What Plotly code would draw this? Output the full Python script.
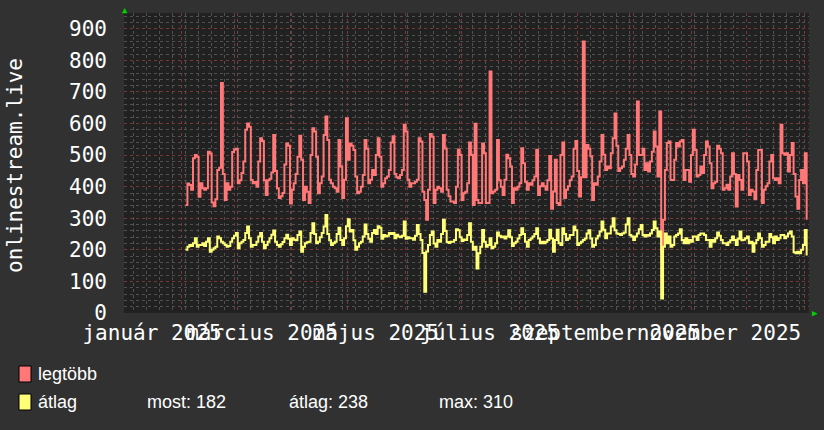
import pandas as pd
import plotly.graph_objects as go

# ---- data (daily values) ----------------------------------------------------
START = "2025-02-03"

legtobb = [
    342, 410, 405, 390, 490, 500, 495,
    368, 411, 395, 390, 395, 511, 505,
    350, 338, 360, 453, 460, 728, 440,
    358, 411, 390, 400, 510, 518, 520,
    411, 420, 443, 480, 580, 600, 590,
    421, 411, 415, 400, 480, 553, 545,
    420, 374, 420, 425, 445, 564, 450,
    395, 364, 370, 380, 470, 537, 530,
    347, 390, 411, 440, 495, 561, 485,
    358, 400, 384, 348, 500, 585, 575,
    495, 379, 411, 432, 564, 622, 548,
    422, 411, 400, 395, 384, 548, 464,
    364, 422, 617, 485, 537, 530, 516,
    432, 379, 384, 400, 437, 548, 520,
    411, 422, 453, 437, 500, 553, 495,
    400, 411, 427, 432, 453, 540, 560,
    440, 430, 427, 437, 453, 596, 575,
    422, 400, 411, 411, 416, 422, 553,
    543, 384, 358, 295, 390, 567, 558,
    348, 390, 400, 395, 384, 564, 521,
    390, 370, 353, 353, 348, 400, 518,
    500, 358, 379, 384, 411, 540, 500,
    342, 599, 358, 348, 348, 537, 506,
    348, 348, 765, 379, 385, 390, 548,
    420, 400, 374, 422, 501, 490, 464,
    348, 395, 390, 400, 411, 522, 474,
    416, 390, 411, 406, 420, 432, 517,
    374, 401, 411, 401, 390, 420, 497,
    330, 385, 485, 348, 342, 500, 540,
    364, 390, 401, 420, 432, 520, 545,
    450, 369, 430, 860, 430, 532, 520,
    496, 358, 411, 406, 432, 480, 564,
    501, 453, 464, 458, 506, 553, 632,
    530, 450, 458, 464, 485, 520, 564,
    500, 440, 432, 470, 670, 500, 500,
    520, 453, 474, 448, 480, 511, 575,
    527, 432, 638, 189, 295, 453, 538,
    543, 421, 421, 485, 538, 527, 543,
    548, 421, 453, 453, 416, 500, 580,
    516, 432, 437, 464, 443, 500, 543,
    527, 474, 395, 411, 416, 530, 520,
    506, 390, 395, 406, 390, 432, 506,
    440, 337, 437, 421, 390, 506, 506,
    480, 374, 390, 385, 360, 453, 516,
    516, 348, 390, 401, 411, 480, 500,
    427, 421, 427, 411, 596, 506, 501,
    506, 448, 500, 538, 440, 369, 330,
    421, 453, 411, 506, 295,
]

atlag = [
    200, 210, 215, 212, 221, 237, 210,
    215, 215, 221, 212, 226, 237, 194,
    200, 205, 210, 242, 237, 226, 221,
    215, 210, 212, 226, 237, 245, 253,
    205, 221, 226, 231, 253, 274, 237,
    210, 215, 215, 226, 242, 253, 226,
    205, 215, 226, 237, 248, 261, 226,
    215, 210, 218, 225, 237, 248, 235,
    215, 237, 232, 230, 247, 258, 194,
    210, 221, 224, 226, 253, 284, 250,
    221, 226, 240, 253, 274, 310, 250,
    230, 215, 221, 226, 250, 270, 231,
    215, 237, 275, 297, 258, 263, 230,
    200, 210, 221, 226, 242, 280, 250,
    235, 226, 253, 263, 250, 275, 270,
    235, 247, 242, 245, 253, 250, 253,
    237, 248, 242, 240, 245, 290, 235,
    240, 237, 237, 232, 245, 279, 250,
    231, 190, 67, 195, 215, 247, 258,
    220, 210, 231, 226, 250, 295, 260,
    225, 222, 226, 226, 231, 265, 262,
    240, 228, 233, 231, 247, 284, 226,
    200, 210, 141, 189, 210, 263, 226,
    210, 215, 237, 205, 210, 221, 255,
    245, 240, 242, 236, 242, 262, 240,
    212, 221, 226, 236, 247, 268, 250,
    226, 210, 231, 236, 242, 250, 268,
    236, 221, 226, 221, 226, 231, 264,
    236, 194, 231, 264, 221, 215, 268,
    250, 231, 236, 247, 247, 274, 262,
    215, 221, 226, 231, 236, 252, 262,
    236, 210, 215, 236, 245, 258, 290,
    264, 237, 252, 252, 274, 300, 262,
    252, 250, 247, 252, 255, 280, 300,
    247, 242, 231, 242, 252, 265, 279,
    247, 242, 247, 245, 252, 263, 290,
    268, 242, 258, 46, 210, 252, 221,
    242, 210, 215, 242, 247, 252, 265,
    231, 221, 237, 221, 231, 226, 242,
    242, 231, 247, 252, 252, 247, 231,
    231, 210, 231, 226, 237, 255, 245,
    231, 221, 221, 215, 224, 230, 242,
    231, 215, 235, 258, 230, 232, 237,
    242, 221, 226, 194, 221, 231, 252,
    237, 210, 215, 226, 226, 250, 240,
    221, 242, 231, 237, 247, 247, 237,
    242, 252, 258, 242, 192, 189, 194,
    189, 200, 215, 263, 182,
]

month_labels = ["január 2025", "március 2025", "május 2025",
                "július 2025", "szeptember 2025", "november 2025"]
label_dates = ["2025-01-16", "2025-03-16", "2025-05-16",
               "2025-07-16", "2025-09-16", "2025-11-16"]
month_starts = pd.date_range("2025-01-01", "2026-01-01", freq="MS")
stats = {"most": 182, "átlag": 238, "max": 310}

X_RANGE = ["2025-01-01", "2026-01-03 06:00"]
Y_RANGE = [0, 950]

# ---- style ------------------------------------------------------------------
BG = "#313131"
PLOT_BG = "#212121"
GRID = "#505050"
MAJOR = "#783838"
RED = "#ff7777"
YELLOW = "#ffff77"
MONO = "DejaVu Sans Mono, monospace"
LEG = "Liberation Sans, Arial, sans-serif"

W, H = 824, 430
L, R, T, B = 124, 15, 13, 117
PW, PH = W - L - R, H - T - B


def px(x):
    return (x - L) / PW


def py(y):
    return (T + PH - y) / PH


dates = pd.date_range(START, periods=len(legtobb), freq="D")

fig = go.Figure()
fig.add_trace(go.Scatter(x=dates, y=legtobb, mode="lines", line_shape="hv",
                         line=dict(color=RED, width=2), name="legtöbb"))
fig.add_trace(go.Scatter(x=dates, y=atlag, mode="lines", line_shape="hv",
                         line=dict(color=YELLOW, width=2), name="átlag"))

fig.update_layout(
    width=W, height=H, autosize=False,
    margin=dict(l=L, r=R, t=T, b=B, autoexpand=False),
    paper_bgcolor=BG, plot_bgcolor=PLOT_BG,
    showlegend=False,
    font=dict(family=MONO, size=21, color="#ffffff"),
)

fig.update_xaxes(
    range=X_RANGE, type="date", automargin=False,
    tickmode="array", tickvals=month_starts, ticktext=[""] * len(month_starts),
    showgrid=True, gridcolor=MAJOR, griddash="dot", gridwidth=1,
    minor=dict(dtick=7 * 86400000, tick0="2025-01-06", showgrid=True,
               gridcolor=GRID, griddash="dot", gridwidth=1),
    showline=False, zeroline=False, ticks="",
)
fig.update_layout(xaxis2=dict(
    overlaying="x", anchor="y", side="bottom", type="date", range=X_RANGE,
    automargin=False,
    tickmode="array", tickvals=label_dates, ticktext=month_labels,
    tickangle=0, showgrid=False, zeroline=False, showline=False, ticks="",
    tickfont=dict(family=MONO, size=21, color="#ffffff"),
    ticklabelstandoff=5,
))
# invisible trace to activate xaxis2
fig.add_trace(go.Scatter(x=[X_RANGE[0]], y=[None], xaxis="x2", yaxis="y",
                         mode="lines", hoverinfo="skip", showlegend=False))

fig.update_yaxes(
    range=Y_RANGE, dtick=100, tick0=0, automargin=False,
    showgrid=True, gridcolor=MAJOR, griddash="dot", gridwidth=1,
    minor=dict(dtick=20, showgrid=True, gridcolor=GRID, griddash="dot",
               gridwidth=1),
    zeroline=False, showline=False, ticks="",
    tickfont=dict(family=MONO, size=21, color="#ffffff"),
    ticklabelstandoff=16,
)

ann = []
ann.append(dict(text="onlinestream.live", x=px(15), y=py(165), xref="paper",
                yref="paper", xanchor="center", yanchor="middle",
                textangle=-90, showarrow=False,
                font=dict(family=MONO, size=21, color="#ffffff")))
ann.append(dict(text="▲", x=px(125), y=py(10), xref="paper", yref="paper",
                xanchor="center", yanchor="middle",
                showarrow=False, font=dict(size=9, color="#00d000")))
ann.append(dict(text="▶", x=px(815), y=py(313), xref="paper", yref="paper",
                xanchor="center", yanchor="middle",
                showarrow=False, font=dict(size=9, color="#00d000")))

legend_rows = [("legtöbb", RED, 374), ("átlag", YELLOW, 402)]
shapes = []
for name, col, yc in legend_rows:
    shapes.append(dict(type="rect", xref="paper", yref="paper",
                       x0=px(19), x1=px(31), y0=py(yc + 8), y1=py(yc - 8),
                       fillcolor=col, line=dict(color="#000000", width=1)))
    ann.append(dict(text=name, x=px(36), y=py(yc), xref="paper", yref="paper",
                    xanchor="left", yanchor="middle", showarrow=False,
                    font=dict(family=LEG, size=18, color="#ffffff")))

stat_x = [145, 287, 437]
for (k, v), sx in zip(stats.items(), stat_x):
    ann.append(dict(text=f"{k}: {v}", x=px(sx), y=py(402), xref="paper",
                    yref="paper", xanchor="left", yanchor="middle",
                    showarrow=False,
                    font=dict(family=LEG, size=18, color="#ffffff")))

fig.update_layout(annotations=ann, shapes=shapes)

fig.write_html(
    "out.html",
    config={"displayModeBar": False},
    post_script="document.body.style.margin='0';"
                "document.body.style.background='#313131';",
)
